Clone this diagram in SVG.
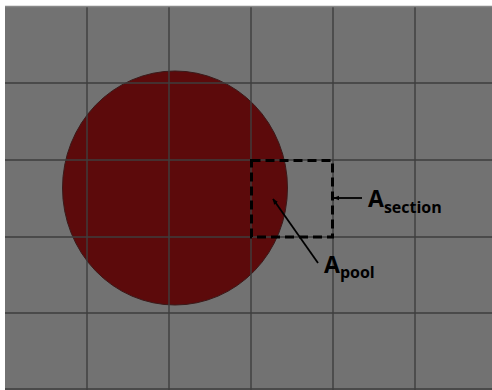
<svg xmlns="http://www.w3.org/2000/svg" width="492" height="390" viewBox="0 0 492 390">
<defs>
<style>
.grid{stroke:#3e3e3e;stroke-width:1.4;fill:none}
.lbl{font-family:"Open Sans","Noto Sans","Liberation Sans",sans-serif;font-weight:bold;fill:#000}
.arr{stroke:#000;stroke-width:1.8;fill:none}
</style>
<marker id="ah" viewBox="0 0 10 10" refX="9" refY="5" markerWidth="6" markerHeight="6" orient="auto" markerUnits="userSpaceOnUse">
<path d="M0,1 L10,5 L0,9 z" fill="#000"/>
</marker>
</defs>
<rect x="0" y="0" width="492" height="390" fill="#fff"/>
<rect x="5" y="6" width="487" height="384" fill="#727272"/>
<g id="pool">
<ellipse cx="175" cy="188" rx="112.5" ry="117" fill="#5c0a0b" stroke="#3a1a1a" stroke-width="1"/>
</g>
<g id="grid" class="grid">
<line x1="87" y1="6" x2="87" y2="390"/>
<line x1="169" y1="6" x2="169" y2="390"/>
<line x1="251" y1="6" x2="251" y2="390"/>
<line x1="333" y1="6" x2="333" y2="390"/>
<line x1="415" y1="6" x2="415" y2="390"/>
<line x1="5" y1="83" x2="492" y2="83"/>
<line x1="5" y1="160" x2="492" y2="160"/>
<line x1="5" y1="237" x2="492" y2="237"/>
<line x1="5" y1="313" x2="492" y2="313"/>
<line x1="5" y1="389" x2="492" y2="389"/>
<line x1="5" y1="6.5" x2="492" y2="6.5" stroke="#888"/>
</g>
<g id="section">
<rect x="251.5" y="160.5" width="81" height="76.5" fill="none" stroke="#000" stroke-width="3" stroke-dasharray="9,5"/>
</g>
<g id="connectors">
<line class="arr" x1="362" y1="198" x2="334" y2="198" marker-end="url(#ah)"/>
<line class="arr" x1="318" y1="263" x2="273" y2="199" marker-end="url(#ah)"/>
</g>
<g id="label-section">
<text class="lbl" x="368" y="207" font-size="23">A<tspan font-size="16" dy="6">section</tspan></text>
</g>
<g id="label-pool">
<text class="lbl" x="324" y="273" font-size="23">A<tspan font-size="16" dy="5">pool</tspan></text>
</g>
</svg>
